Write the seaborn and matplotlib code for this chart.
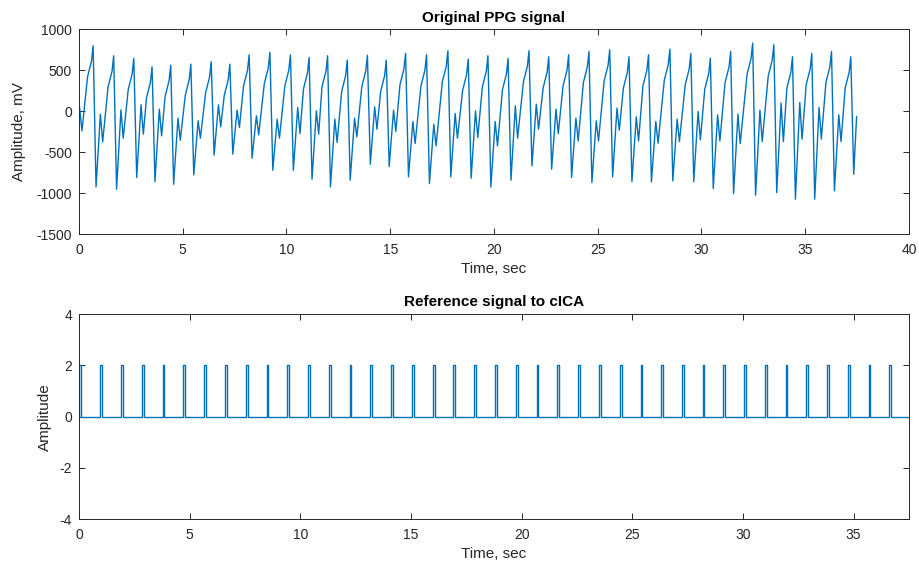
import numpy as np
import pandas as pd
import matplotlib
matplotlib.use("Agg")
import matplotlib.pyplot as plt
import seaborn as sns

# ---------------- data ----------------
# PPG: initial samples before the first beat
start_t = [0.00, 0.14]
start_v = [106, -240]

# per-beat systolic peak times (s) and values (mV)
peak_t = [0.68, 1.67, 2.64, 3.52, 4.42, 5.39, 6.37, 7.27, 8.20, 9.20,
          10.19, 11.09, 11.98, 12.93, 13.90, 14.81, 15.74, 16.75, 17.78, 18.76,
          19.71, 20.68, 21.69, 22.64, 23.60, 24.58, 25.58, 26.51, 27.45, 28.48,
          29.49, 30.43, 31.41, 32.47, 33.49, 34.39, 35.32, 36.27, 37.20]
peak_v = [797, 675, 642, 541, 561, 573, 602, 573, 687, 715,
          687, 654, 675, 622, 680, 622, 703, 687, 736, 634,
          675, 642, 736, 663, 687, 728, 748, 663, 687, 756,
          703, 646, 728, 829, 809, 663, 703, 728, 663]
# shoulder just before each peak, and knee on the rising edge
shoulder_v = [607, 485, 452, 351, 371, 383, 412, 383, 497, 525,
              497, 464, 485, 432, 490, 432, 513, 497, 546, 444,
              485, 452, 546, 473, 497, 538, 558, 473, 497, 566,
              513, 456, 538, 639, 619, 473, 513, 538, 473]
knee_v = [417, 295, 262, 161, 181, 193, 222, 193, 307, 335,
          307, 274, 295, 242, 300, 242, 323, 307, 356, 254,
          295, 262, 356, 283, 307, 348, 368, 283, 307, 376,
          323, 266, 348, 449, 429, 283, 323, 348, 283]
# trough after each peak
trough_v = [-923, -951, -809, -858, -890, -776, -537, -524, -573, -720,
            -720, -829, -923, -841, -646, -675, -801, -882, -801, -817,
            -923, -841, -667, -707, -809, -870, -801, -858, -862, -850,
            -858, -943, -1004, -1024, -992, -1073, -1073, -972, -768]
# rebound (secondary wave) and the dip following it, per beat (except last)
notch_v = [-37, 16, 77, 24, -85, -118, 77, 12, -57, -98,
           45, 4, -98, -85, 53, 12, -126, -159, -28, 4,
           -126, 65, 85, 24, -85, -118, 37, -69, -126, -98,
           -4, -45, -37, 12, 98, 106, 45, -45]
dip_v = [-374, -329, -280, -301, -354, -329, -191, -199, -289, -329,
         -272, -280, -382, -313, -220, -248, -394, -423, -329, -321,
         -423, -329, -220, -272, -362, -362, -232, -362, -390, -370,
         -350, -362, -394, -370, -370, -341, -341, -370]
end_t = [37.48]
end_v = [-65]

# Reference pulse train: pulse onset times (s) and amplitude
pulse_t = [0.00, 0.97, 1.89, 2.84, 3.78, 4.71, 5.66, 6.60, 7.54, 8.48,
           9.42, 10.36, 11.29, 12.23, 13.17, 14.11, 15.05, 15.99, 16.92, 17.86,
           18.80, 19.74, 20.68, 21.62, 22.57, 23.51, 24.45, 25.38, 26.32, 27.25,
           28.18, 29.12, 30.07, 31.00, 31.93, 32.87, 33.82, 34.75, 35.68, 36.62]
pulse_amp = 2.0
ref_end = 37.5

x_ticks_top = [0, 5, 10, 15, 20, 25, 30, 35, 40]
y_ticks_top = [-1500, -1000, -500, 0, 500, 1000]
x_ticks_bot = [0, 5, 10, 15, 20, 25, 30, 35]
y_ticks_bot = [-4, -2, 0, 2, 4]

# ---------------- build polylines ----------------
# beat-shape timing offsets (s) relative to peak
OFF_TROUGH, OFF_NOTCH, OFF_DIP = 0.14, 0.35, 0.46
OFF_KNEE, OFF_SHOULDER = -0.27, -0.08

tt = list(start_t)
vv = list(start_v)
n = len(peak_t)
for k in range(n):
    tt += [peak_t[k] + OFF_KNEE, peak_t[k] + OFF_SHOULDER, peak_t[k],
           peak_t[k] + OFF_TROUGH]
    vv += [knee_v[k], shoulder_v[k], peak_v[k], trough_v[k]]
    if k < n - 1:
        tt += [peak_t[k] + OFF_NOTCH, peak_t[k] + OFF_DIP]
        vv += [notch_v[k], dip_v[k]]
tt += end_t
vv += end_v
ppg = pd.DataFrame({"t": tt, "v": vv})

PW = 0.075
rt, rv = [], []
for p in pulse_t:
    rt += [p, p, p + PW, p + PW]
    rv += [0, pulse_amp, pulse_amp, 0]
rt.append(ref_end)
rv.append(0)
ref = pd.DataFrame({"t": rt, "v": rv})

# ---------------- style ----------------
sns.set_theme(style="white")
AX_COL = "#262626"
plt.rcParams.update({
    "font.family": ["Liberation Sans", "DejaVu Sans"],
    "axes.unicode_minus": False,
    "axes.edgecolor": AX_COL,
    "axes.linewidth": 0.7,
    "xtick.color": AX_COL,
    "ytick.color": AX_COL,
    "xtick.labelcolor": AX_COL,
    "ytick.labelcolor": AX_COL,
    "axes.labelcolor": AX_COL,
    "xtick.direction": "in",
    "ytick.direction": "in",
    "xtick.major.size": 4,
    "ytick.major.size": 4,
    "xtick.major.width": 0.7,
    "ytick.major.width": 0.7,
    "xtick.labelsize": 10,
    "ytick.labelsize": 10,
})

LINE = "#0072BD"
fig = plt.figure(figsize=(9.19, 5.70), dpi=100)
ax1 = fig.add_axes([0.086, 0.589, 0.903, 0.360])
ax2 = fig.add_axes([0.086, 0.089, 0.903, 0.360])

sns.lineplot(data=ppg, x="t", y="v", ax=ax1, color=LINE, linewidth=1.0,
             estimator=None, sort=False)
sns.lineplot(data=ref, x="t", y="v", ax=ax2, color=LINE, linewidth=1.0,
             estimator=None, sort=False)

ax1.set_xlim(0, 40)
ax1.set_ylim(-1500, 1000)
ax1.set_xticks(x_ticks_top)
ax1.set_yticks(y_ticks_top)
ax1.set_title("Original PPG signal", fontsize=11, fontweight="bold",
              color="black", pad=5)
ax1.set_xlabel("Time, sec", fontsize=11, labelpad=4)
ax1.set_ylabel("Amplitude, mV", fontsize=11)
ax1.yaxis.set_label_coords(-0.064, 0.5)

ax2.set_xlim(0, ref_end)
ax2.set_ylim(-4, 4)
ax2.set_xticks(x_ticks_bot)
ax2.set_yticks(y_ticks_bot)
ax2.set_title("Reference signal to cICA", fontsize=11, fontweight="bold",
              color="black", pad=6)
ax2.set_xlabel("Time, sec", fontsize=11, labelpad=4)
ax2.set_ylabel("Amplitude", fontsize=11)
ax2.yaxis.set_label_coords(-0.0325, 0.5)

for ax in (ax1, ax2):
    ax.tick_params(top=True, right=True, bottom=True, left=True)
    ax.tick_params(axis="x", pad=6)
    ax.tick_params(axis="y", pad=5)
    for s in ax.spines.values():
        s.set_visible(True)
        s.set_color(AX_COL)
    ax.grid(False)

fig.savefig("out.png", dpi=100)
